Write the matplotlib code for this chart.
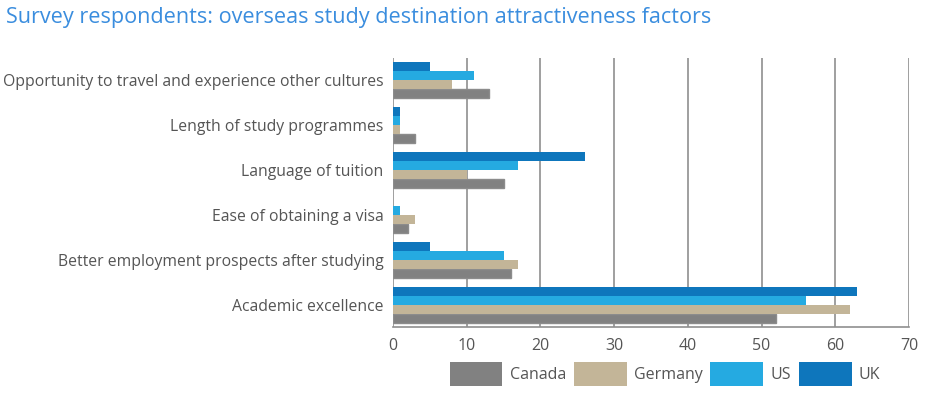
import matplotlib
matplotlib.use("Agg")
import matplotlib.pyplot as plt
import numpy as np

categories = ["Academic excellence",
              "Better employment prospects after studying",
              "Ease of obtaining a visa",
              "Language of tuition",
              "Length of study programmes",
              "Opportunity to travel and experience other cultures"]
canada = [52, 16, 2, 15, 3, 13]
germany = [62, 17, 3, 10, 1, 8]
us = [56, 15, 1, 17, 1, 11]
uk = [63, 5, 0, 26, 1, 5]
series_names = ["Canada", "Germany", "US", "UK"]
colors = ["#818181", "#C3B598", "#25AAE1", "#0E76BC"]
xticks = [0, 10, 20, 30, 40, 50, 60, 70]

plt.rcParams['font.family'] = ['Open Sans', 'DejaVu Sans']
fig = plt.figure(figsize=(9.25, 3.99), dpi=100)
ax = fig.add_axes([393/925, 1-327/399, (909-393)/925, (327-58)/399])

y = np.arange(len(categories))
h = 0.2
offsets = [-0.3, -0.1, 0.1, 0.3]
handles = []
for vals, name, c, off in zip([canada, germany, us, uk], series_names, colors, offsets):
    kw = dict(edgecolor="#8c8c8c", linewidth=1.0) if name == "Canada" else dict(linewidth=0)
    b = ax.barh(y + off, vals, height=h, color=c, label=name, zorder=3, **kw)
    handles.append(b)

ax.set_ylim(-0.5, 5.5)
ax.set_xlim(0, 70)
ax.set_xticks(xticks)
ax.set_yticks(y)
ax.set_yticklabels(categories, fontsize=11.3, color="#555555")
ax.tick_params(axis="x", length=0, labelsize=11.5, colors="#555555", pad=8)
ax.tick_params(axis="y", length=0, pad=7)
ax.grid(axis="x", color="#8f8f8f", linewidth=1.2, zorder=0)
for s in ["top", "right", "left"]:
    ax.spines[s].set_visible(False)
ax.spines["bottom"].set_color("#8f8f8f")
ax.spines["bottom"].set_linewidth(1.2)

fig.text(0.006, 0.955, "Survey respondents: overseas study destination attractiveness factors",
         fontsize=15.6, color="#3A8DDE", va="center", ha="left")

leg = fig.legend(handles, series_names, loc="center", bbox_to_anchor=(665/925, 1-374/399),
                 ncol=4, frameon=False, fontsize=11.5, handlelength=3.3, handleheight=1.9,
                 columnspacing=0.5, handletextpad=0.45, labelcolor="#555555")
for p in leg.get_patches():
    p.set_linewidth(0)

fig.savefig("out.png", dpi=100)
